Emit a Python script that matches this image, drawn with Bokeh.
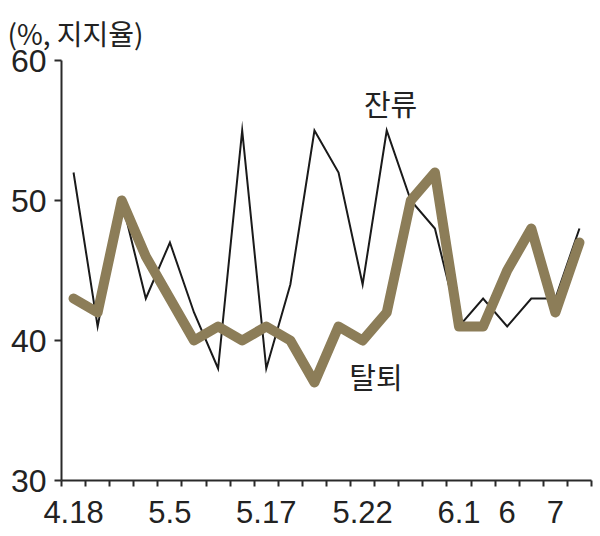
from bokeh.plotting import figure
from bokeh.models import FixedTicker, Label, Range1d, Title
from bokeh.embed import file_html
from bokeh.resources import INLINE

# Data
remain = [52, 41, 50, 43, 47, 42, 38, 55, 38, 44, 55, 52, 44, 55, 50, 48, 41, 43, 41, 43, 43, 48]
leave = [43, 42, 50, 46, 43, 40, 41, 40, 41, 40, 37, 41, 40, 42, 50, 52, 41, 41, 45, 48, 42, 47]
x_labels = ["4.18", "5.5", "5.17", "5.22", "6.1", "6", "7"]
label_idx = [0, 4, 8, 12, 16, 18, 20]
y_ticks = [30, 40, 50, 60]

n = len(remain)
xs = list(range(n))

p = figure(width=600, height=536, output_backend="svg", toolbar_location=None,
           x_range=Range1d(-0.5, n - 0.5), y_range=Range1d(30, 60),
           min_border_left=61, min_border_right=9, min_border_top=60, min_border_bottom=56)
p.outline_line_color = None
p.xgrid.grid_line_color = None
p.ygrid.grid_line_color = None
p.background_fill_color = "white"
p.border_fill_color = "white"

axis_color = "#2a2a2a"
font = "Liberation Sans"
kfont = "Noto Sans CJK KR"

p.add_layout(Title(text="(%, 지지율)", text_font=kfont, text_font_size="28px",
                   text_font_style="normal", text_color="#222222", align="left",
                   offset=-54, standoff=16), "above")

# x axis
p.xaxis.ticker = FixedTicker(ticks=label_idx, minor_ticks=[i - 0.5 for i in range(n + 1)])
p.xaxis.major_label_overrides = {i: l for i, l in zip(label_idx, x_labels)}
p.xaxis.major_tick_line_color = None
p.xaxis.major_tick_out = 6
p.xaxis.minor_tick_out = 6
p.xaxis.minor_tick_in = 0
p.xaxis.minor_tick_line_width = 2
p.xaxis.minor_tick_line_color = axis_color
p.xaxis.axis_line_width = 2
p.xaxis.axis_line_color = axis_color
p.xaxis.major_label_text_font = font
p.xaxis.major_label_text_font_size = "31px"
p.xaxis.major_label_text_color = "#222222"
p.xaxis.major_label_standoff = 14

# y axis
p.yaxis.ticker = FixedTicker(ticks=y_ticks)
p.yaxis.major_tick_out = 7
p.yaxis.major_tick_in = 0
p.yaxis.major_tick_line_width = 2
p.yaxis.major_tick_line_color = axis_color
p.yaxis.minor_tick_line_color = None
p.yaxis.axis_line_width = 2
p.yaxis.axis_line_color = axis_color
p.yaxis.major_label_text_font = font
p.yaxis.major_label_text_font_size = "32px"
p.yaxis.major_label_text_color = "#222222"
p.yaxis.major_label_standoff = 8

# Lines
p.line(xs, remain, line_color="#1a1a1a", line_width=2, line_join="miter")
p.line(xs, leave, line_color="#8c7d58", line_width=10, line_join="round", line_cap="round")

p.add_layout(Label(x=13.16, y=57.0, text="잔류", text_font=kfont, text_font_size="29px",
                   text_color="#222222", text_baseline="middle", text_align="center"))
p.add_layout(Label(x=12.55, y=37.5, text="탈퇴", text_font=kfont, text_font_size="29px",
                   text_color="#222222", text_baseline="middle", text_align="center"))

open("out.html", "w").write(file_html(p, INLINE))
